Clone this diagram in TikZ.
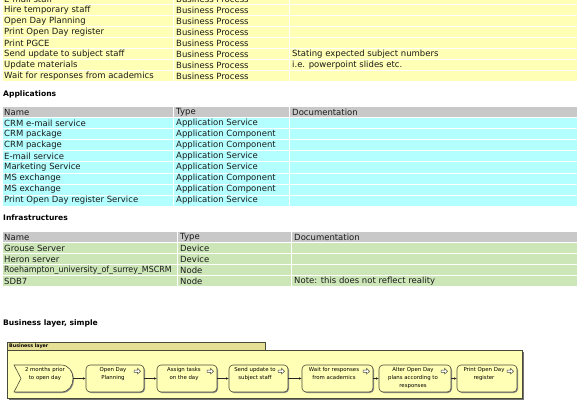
\documentclass[tikz,border=0pt]{standalone}
\usepackage{fontspec}
\setmainfont{DejaVu Sans}
\usetikzlibrary{arrows.meta}
\definecolor{rowyel}{HTML}{FFFFB5}
\definecolor{rowcyan}{HTML}{B3FFFF}
\definecolor{rowgreen}{HTML}{CCE6B8}
\definecolor{rowhead}{HTML}{C8C8C8}
\definecolor{tabyel}{HTML}{E6E096}
\definecolor{grpyel}{HTML}{FFFFB5}
\definecolor{edgecol}{HTML}{4A4A3A}
\definecolor{txtcol}{HTML}{1A1A1A}
\newcommand\tabfont{\fontsize{8.5}{9}\selectfont}
\newcommand\headfont{\fontsize{7.6}{9}\selectfont\bfseries}
\newcommand\boxfont{\fontsize{5.4}{7.7}\selectfont}
\newcommand\tabrow[8]{%
  \fill[#3] (3,#2-5) rectangle (#4,#2+5);
  \fill[#3] (#4+1,#2-5) rectangle (#5,#2+5);
  \fill[#3] (#5+1,#2-5) rectangle (577,#2+5);
  \node[cell] (#1n) at (4,#2) {#6};
  \node[cell] (#1t) at (#4+3,#2) {#7};
  \node[cell] (#1d) at (#5+3,#2) {#8};
}
\begin{document}
\begin{tikzpicture}[x=1pt,y=-1pt,
  cell/.style={anchor=west,inner sep=0pt,font=\tabfont,text=txtcol},
  heading/.style={anchor=west,inner sep=0pt,font=\headfont,text=black},
  procbox/.style={draw=edgecol,line width=0.6pt,fill=grpyel,rounded corners=4pt},
  boxtext/.style={anchor=north,inner sep=0pt,font=\boxfont,align=center,text=black},
  flow/.style={draw=black!85,line width=0.5pt,-{Latex[length=2.6pt,width=2.4pt]}}]
\useasboundingbox (0,0) rectangle (580,406);
\clip (0,0) rectangle (580,406);
\fill[white] (0,0) rectangle (580,406);
% ---- business process table (continuation)
\tabrow{ba}{-1}{rowyel}{173}{289}{E-mail staff}{Business Process}{}
\tabrow{bb}{10}{rowyel}{173}{289}{Hire temporary staff}{Business Process}{}
\tabrow{bc}{21}{rowyel}{173}{289}{Open Day Planning}{Business Process}{}
\tabrow{bd}{32}{rowyel}{173}{289}{Print Open Day register}{Business Process}{}
\tabrow{be}{43}{rowyel}{173}{289}{Print PGCE}{Business Process}{}
\tabrow{bf}{54}{rowyel}{173}{289}{Send update to subject staff}{Business Process}{Stating expected subject numbers}
\tabrow{bg}{65}{rowyel}{173}{289}{Update materials}{Business Process}{i.e. powerpoint slides etc.}
\tabrow{bh}{76}{rowyel}{173}{289}{Wait for responses from academics}{Business Process}{}
% ---- applications
\node[heading] (apph) at (3,94) {Applications};
\tabrow{ah}{112.5}{rowhead}{173}{289}{Name}{Type}{Documentation}
\tabrow{aa}{123.5}{rowcyan}{173}{289}{CRM e-mail service}{Application Service}{}
\tabrow{ab}{134.5}{rowcyan}{173}{289}{CRM package}{Application Component}{}
\tabrow{ac}{145.5}{rowcyan}{173}{289}{CRM package}{Application Component}{}
\tabrow{ad}{156.5}{rowcyan}{173}{289}{E-mail service}{Application Service}{}
\tabrow{ae}{167.5}{rowcyan}{173}{289}{Marketing Service}{Application Service}{}
\tabrow{af}{178.5}{rowcyan}{173}{289}{MS exchange}{Application Component}{}
\tabrow{ag}{189.5}{rowcyan}{173}{289}{MS exchange}{Application Component}{}
\tabrow{ai}{200.5}{rowcyan}{173}{289}{Print Open Day register Service}{Application Service}{}
% ---- infrastructures
\node[heading] (infh) at (3,218) {Infrastructures};
\tabrow{ih}{237}{rowhead}{177}{291}{Name}{Type}{Documentation}
\tabrow{ia}{248}{rowgreen}{177}{291}{Grouse Server}{Device}{}
\tabrow{ib}{259}{rowgreen}{177}{291}{Heron server}{Device}{}
\tabrow{ic}{270}{rowgreen}{177}{291}{\scalebox{0.93}[1]{Roehampton\_university\_of\_surrey\_MSCRM}}{Node}{}
\tabrow{id}{281}{rowgreen}{177}{291}{SDB7}{Node}{Note: this does not reflect reality}
% ---- business layer diagram
\node[heading] (blh) at (3,323) {Business layer, simple};
\fill[black!55] (9,352) rectangle (524,400);
\draw[edgecol,line width=0.6pt,fill=tabyel] (7,342) rectangle (265,350);
\draw[edgecol,line width=0.6pt,fill=grpyel] (7,350) rectangle (522,398);
\node[anchor=west,inner sep=0pt,font=\fontsize{4.8}{5}\selectfont\bfseries] (grplabel) at (9,346) {Business layer};
% event shape
\fill[black!45] (15,366) -- (62,366) .. controls (78,366) and (78,393) .. (62,393) -- (15,393) -- (22,379.5) -- cycle;
\draw[edgecol,line width=0.6pt,fill=grpyel] (14,365) -- (61,365) .. controls (77,365) and (77,392) .. (61,392) -- (14,392) -- (21,378.5) -- cycle;
\coordinate (ev) at (72.5,378.5);
\node[boxtext] (evt) at (45,367.5) {2 months prior\\to open day};
% process boxes
\foreach \nm/\xa/\xb in {p1/86/144,p2/157/217,p3/229/288,p4/302/373,p5/379/451,p6/457/517}{
  \fill[black!45,rounded corners=4pt] (\xa+1,366) rectangle (\xb+1,393);
  \draw[procbox] (\xa,365) rectangle (\xb,392);
  \node[inner sep=0pt,minimum width={\xb-\xa},minimum height=27pt] (\nm) at ({(\xa+\xb)/2},378.5) {};
  \draw[edgecol,line width=0.5pt,fill=white] (\xb-10,370) -- (\xb-6.5,370) -- (\xb-6.5,368.3) -- (\xb-3.5,371.2) -- (\xb-6.5,374.1) -- (\xb-6.5,372.4) -- (\xb-10,372.4) -- cycle;
}
\node[boxtext] (t1) at (113,367.5) {Open Day\\Planning};
\node[boxtext] (t2) at (184,367.5) {Assign tasks\\on the day};
\node[boxtext] (t3) at (255,367.5) {Send update to\\subject staff};
\node[boxtext] (t4) at (334,367.5) {Wait for responses\\from academics};
\node[boxtext] (t5) at (413,367.5) {Alter Open Day\\plans according to\\responses};
\node[boxtext] (t6) at (484,367.5) {Print Open Day\\register};
\draw[flow] (ev) -- (p1.west);
\draw[flow] (p1.east) -- (p2.west);
\draw[flow] (p2.east) -- (p3.west);
\draw[flow] (p3.east) -- (p4.west);
\draw[flow] (p4.east) -- (p5.west);
\draw[flow] (p5.east) -- (p6.west);
\end{tikzpicture}
\end{document}
